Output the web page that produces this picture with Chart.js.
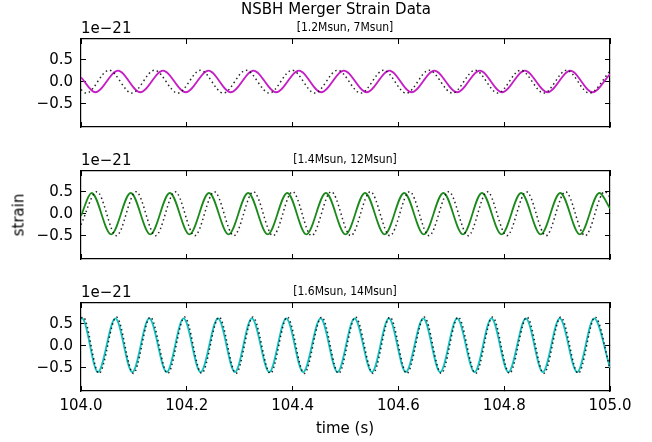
<!DOCTYPE html>
<html>
<head>
<meta charset="utf-8">
<script src="https://cdn.jsdelivr.net/npm/chart.js@4.4.1/dist/chart.umd.min.js"></script>
<style>
  body { margin: 0; background: #fff; }
  #wrap { position: relative; width: 652px; height: 442px; font-family: "DejaVu Sans", sans-serif; color: #000; }
  canvas { position: absolute; left: 0; top: 0; }
  .txt { position: absolute; white-space: nowrap; line-height: 1; }
  .sub { font-family: "DejaVu Sans Condensed", "Liberation Sans Narrow", "DejaVu Sans", sans-serif; font-stretch: condensed; font-size: 12px; }
</style>
</head>
<body>
<div id="wrap">
  <canvas id="c0" width="652" height="442"></canvas>
  <canvas id="c1" width="652" height="442"></canvas>
  <canvas id="c2" width="652" height="442"></canvas>
</div>
<script>
// tick labels
var xTicks = [104.0, 104.2, 104.4, 104.6, 104.8, 105.0];
var yTicks = [-0.5, 0.0, 0.5];
var panelTitles = ["[1.2Msun, 7Msun]", "[1.4Msun, 12Msun]", "[1.6Msun, 14Msun]"];

// panel 1 - [1.2Msun, 7Msun], values in units of 1e-21 (read at extrema)
var t1 = [104.000, 104.027, 104.070, 104.112, 104.155, 104.198, 104.241, 104.283, 104.326, 104.369, 104.412, 104.454,
          104.497, 104.540, 104.583, 104.625, 104.668, 104.711, 104.754, 104.796, 104.839, 104.882, 104.925, 104.967, 105.000];
var h1 = [0.10, -0.24, 0.25, -0.24, 0.25, -0.24, 0.25, -0.24, 0.25, -0.24, 0.25, -0.24,
          0.25, -0.24, 0.25, -0.24, 0.25, -0.24, 0.25, -0.24, 0.25, -0.24, 0.25, -0.24, 0.17];
var t1Ref = [104.000, 104.010, 104.053, 104.096, 104.139, 104.183, 104.226, 104.269, 104.312, 104.356, 104.399, 104.442,
             104.485, 104.529, 104.572, 104.615, 104.658, 104.702, 104.745, 104.788, 104.831, 104.875, 104.918, 104.961, 105.000];
var h1Ref = [-0.18, -0.26, 0.26, -0.26, 0.26, -0.26, 0.26, -0.26, 0.26, -0.26, 0.26, -0.26,
             0.26, -0.26, 0.26, -0.26, 0.26, -0.26, 0.26, -0.26, 0.26, -0.26, 0.26, -0.26, 0.24];

// panel 2 - [1.4Msun, 12Msun]
var t2 = [104.000, 104.020, 104.057, 104.094, 104.131, 104.168, 104.205, 104.242, 104.279, 104.316, 104.353, 104.390,
          104.426, 104.463, 104.500, 104.537, 104.574, 104.611, 104.648, 104.685, 104.722, 104.758, 104.795, 104.832,
          104.869, 104.906, 104.943, 104.980, 105.000];
var h2 = [-0.05, 0.47, -0.47, 0.47, -0.47, 0.47, -0.47, 0.47, -0.47, 0.47, -0.47, 0.47,
          -0.47, 0.47, -0.47, 0.47, -0.47, 0.47, -0.47, 0.47, -0.47, 0.47, -0.47, 0.47,
          -0.47, 0.47, -0.47, 0.47, 0.12];
var t2Ref = [104.000, 104.030, 104.067, 104.104, 104.141, 104.178, 104.215, 104.252, 104.289, 104.326, 104.363, 104.400,
             104.436, 104.473, 104.510, 104.547, 104.584, 104.621, 104.658, 104.695, 104.732, 104.768, 104.805, 104.842,
             104.879, 104.916, 104.953, 104.990, 105.000];
var h2Ref = [-0.25, 0.50, -0.50, 0.50, -0.50, 0.50, -0.50, 0.50, -0.50, 0.50, -0.50, 0.50,
             -0.50, 0.50, -0.50, 0.50, -0.50, 0.50, -0.50, 0.50, -0.50, 0.50, -0.50, 0.50,
             -0.50, 0.50, -0.50, 0.50, 0.38];

// panel 3 - [1.6Msun, 14Msun]
var t3 = [104.000, 104.002, 104.032, 104.065, 104.097, 104.129, 104.162, 104.194, 104.226, 104.259, 104.291, 104.323,
          104.356, 104.388, 104.420, 104.453, 104.485, 104.517, 104.550, 104.582, 104.614, 104.647, 104.679, 104.711,
          104.744, 104.776, 104.808, 104.841, 104.873, 104.905, 104.938, 104.970, 105.000];
var h3 = [0.61, 0.62, -0.60, 0.62, -0.60, 0.62, -0.60, 0.62, -0.60, 0.62, -0.60, 0.62,
          -0.60, 0.62, -0.60, 0.62, -0.60, 0.62, -0.60, 0.62, -0.60, 0.62, -0.60, 0.62,
          -0.60, 0.62, -0.60, 0.62, -0.60, 0.62, -0.60, 0.62, -0.50];
var t3Ref = [104.000, 104.004, 104.034, 104.067, 104.099, 104.131, 104.164, 104.196, 104.228, 104.261, 104.293, 104.325,
             104.358, 104.390, 104.422, 104.455, 104.487, 104.519, 104.552, 104.584, 104.616, 104.649, 104.681, 104.713,
             104.746, 104.778, 104.810, 104.843, 104.875, 104.907, 104.940, 104.972, 105.000];
var h3Ref = [0.63, 0.65, -0.63, 0.65, -0.63, 0.65, -0.63, 0.65, -0.63, 0.65, -0.63, 0.65,
             -0.63, 0.65, -0.63, 0.65, -0.63, 0.65, -0.63, 0.65, -0.63, 0.65, -0.63, 0.65,
             -0.63, 0.65, -0.63, 0.65, -0.63, 0.65, -0.63, 0.65, -0.52];

var panels = [
  { t: t1, h: h1, tRef: t1Ref, hRef: h1Ref, color: "#c61ec6", top: 39 },
  { t: t2, h: h2, tRef: t2Ref, hRef: h2Ref, color: "#1a8a1a", top: 171 },
  { t: t3, h: h3, tRef: t3Ref, hRef: h3Ref, color: "#14c0c0", top: 303 }
];
var boxH = 88;
var plotLeft = 81;
var plotRight = 610;
var fontFam = "'DejaVu Sans', sans-serif";

function toPoints(t, h) {
  return t.map(function (x, i) { return { x: x, y: h[i] }; });
}

function fmt(v) {
  return v.toFixed(1).replace("-", "\u2212");
}

function setTicks(list) {
  return function (scale) {
    scale.ticks = list.map(function (v) { return { value: v }; });
  };
}

// fixed axis sizes so every panel box sits in the same place
function fixSize(size) {
  return function (scale) {
    if (scale.isHorizontal()) scale.height = size; else scale.width = size;
  };
}

function axis(kind, position, showLabels, size) {
  var isX = kind === "x";
  return {
    type: "linear",
    axis: kind,
    position: position,
    min: isX ? 104 : -1.03,
    max: isX ? 105 : 0.97,
    afterBuildTicks: setTicks(isX ? xTicks : yTicks),
    afterFit: fixSize(size),
    grid: { drawOnChartArea: false, drawTicks: true, tickLength: -5, color: "#000", lineWidth: 1 },
    border: { display: true, color: "#000", width: 1.2 },
    ticks: {
      display: showLabels,
      padding: isX ? 11 : 13,
      autoSkip: false,
      maxRotation: 0,
      color: "#000",
      font: { family: fontFam, size: 15 },
      callback: function (v) { return fmt(v); }
    }
  };
}

function createPanel(idx) {
  var p = panels[idx];
  var bottomSize = 442 - p.top - boxH;
  var ctx = document.getElementById("c" + idx).getContext("2d");
  return new Chart(ctx, {
    type: "line",
    data: {
      datasets: [
        {
          data: toPoints(p.tRef, p.hRef),
          borderColor: "rgba(0,0,0,0.85)",
          borderWidth: 1.5,
          borderDash: [1.5, 3],
          pointRadius: 0,
          cubicInterpolationMode: "monotone",
          clip: 0,
          order: 0
        },
        {
          data: toPoints(p.t, p.h),
          borderColor: p.color,
          borderWidth: 1.8,
          pointRadius: 0,
          cubicInterpolationMode: "monotone",
          clip: 0,
          order: 1
        }
      ]
    },
    options: {
      responsive: false,
      animation: false,
      events: [],
      layout: { padding: { left: 0, right: 652 - plotRight, top: p.top, bottom: 0 } },
      plugins: { legend: { display: false }, tooltip: { enabled: false } },
      scales: {
        x: axis("x", "bottom", idx === 2, bottomSize),
        xTop: axis("x", "top", false, 0),
        y: axis("y", "left", true, plotLeft),
        yRight: axis("y", "right", false, 0)
      }
    }
  });
}

function addText(str, x, y, cls, style) {
  var d = document.createElement("div");
  d.className = "txt " + (cls || "");
  d.textContent = str;
  d.style.left = x + "px";
  d.style.top = y + "px";
  d.style.cssText += style || "";
  document.getElementById("wrap").appendChild(d);
}

document.addEventListener("DOMContentLoaded", function () {
  createPanel(0);
  createPanel(1);
  createPanel(2);

  addText("NSBH Merger Strain Data", 336, 9, "", "font-size:15px;transform:translate(-50%,-50%);");
  panels.forEach(function (p, i) {
    addText(panelTitles[i], 345, p.top - 12, "sub", "transform:translate(-50%,-50%);");
    addText("1e\u221221", 81, p.top - 11, "", "font-size:15px;transform:translate(0,-50%);");
  });
  addText("strain", 19, 215, "", "font-size:15px;transform:translate(-50%,-50%) rotate(-90deg);");
  addText("time (s)", 345, 428, "", "font-size:15px;transform:translate(-50%,-50%);");
});
</script>
</body>
</html>
